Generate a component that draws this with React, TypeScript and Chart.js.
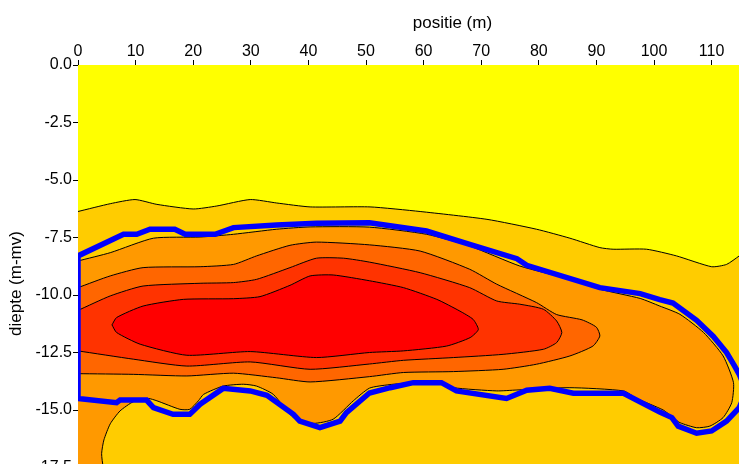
import React, { useEffect, useRef } from 'react';
import { Chart, registerables } from 'chart.js';

Chart.register(...registerables);

type P = [number, number];

// axis ranges / ticks
const X_MIN = 0;
const X_MAX = 130;
const X_STEP = 10;
const Y_MIN = -19;
const Y_MAX = 0;
const Y_STEP = 2.5;
const X_TITLE = 'positie (m)';
const Y_TITLE = 'diepte (m-mv)';

// whole section (lowest class)
const sectionArea: P[] = [[0, 0], [130, 0], [130, -19.5], [0, -19.5]];

// class 2 (gold): everything below the first contour
const contour1: P[] = [
  [0, -6.37], [5.6, -6.03], [9.9, -5.85], [13.7, -6.06], [20, -6.26], [24.1, -6.13],
  [29.9, -5.85], [34.5, -6.0], [40.3, -6.17], [50.7, -6.17], [59.4, -6.37], [71, -6.71],
  [79.6, -7.14], [85.4, -7.53], [90.6, -7.94], [92.9, -8.01], [98.7, -8.01], [103.9, -8.3],
  [110, -8.77], [112.6, -8.67], [114.8, -8.3], [117, -7.9], [122, -7.6], [130, -7.5],
  [130, -19.5], [0, -19.5],
];

// class 3 (orange)
const contour2: P[] = [
  [0, -8.52], [5.6, -8.16], [13.1, -7.53], [21.2, -7.48], [27, -7.36], [34.5, -7.14],
  [40.3, -7.04], [50.6, -7.05], [60.5, -7.36], [68, -7.87], [76.7, -8.74], [85.4, -9.32],
  [90.6, -9.75], [97.6, -10.15], [101, -10.48], [104.5, -10.84], [108.6, -11.63],
  [112, -12.65], [113.8, -13.81], [113.5, -14.68], [112, -15.33], [109.7, -15.7],
  [107.4, -15.77], [104.5, -15.55], [103.3, -15.33], [101.6, -15.0], [97, -14.5],
  [94.7, -14.17], [85.4, -14.03], [76.2, -14.13], [72.7, -14.17], [65.2, -14.03],
  [63.1, -13.81], [58.2, -13.81], [54, -13.9], [50.6, -14.05], [47.8, -14.6], [44.3, -15.4],
  [40.9, -15.58], [37.4, -15.33], [33.9, -14.32], [31, -13.96], [28.7, -13.88], [25.2, -13.96],
  [21.8, -14.32], [20.9, -14.6], [19.4, -14.97], [17.7, -14.97], [13.7, -14.6], [12.2, -14.5],
  [9.6, -14.64], [7.3, -15.04], [5.6, -15.6], [4.5, -16.3], [4.1, -16.9], [4.4, -17.5],
  [5.5, -18.3], [7, -19.5], [0, -19.5],
];

// class 4 (dark orange)
const contour3: P[] = [
  [0, -9.68], [5.6, -9.17], [11.3, -8.81], [21.2, -8.77], [27, -8.67], [31, -8.3],
  [36.8, -7.84], [41.4, -7.7], [50.6, -7.82], [59.4, -8.09], [68, -8.88], [72.7, -9.53],
  [79.6, -10.33], [83.1, -10.85], [87.5, -11.08], [90, -11.4], [90.6, -11.78], [89.4, -12.22],
  [85.4, -12.65], [79.6, -13.01], [73.8, -13.23], [65.2, -13.33], [56.5, -13.37],
  [50.6, -13.55], [40.3, -13.78], [34.5, -13.6], [27, -13.4], [18.9, -13.52], [9.6, -13.45],
  [0, -13.42],
];

// class 5 (red-orange)
const contour4: P[] = [
  [0, -10.67], [5.6, -10.04], [11.3, -9.61], [21.2, -9.49], [27, -9.46], [31, -9.32],
  [36.8, -8.81], [41.4, -8.4], [46.1, -8.4], [50.6, -8.57], [59.4, -9.03], [68, -9.68],
  [72.7, -10.26], [76.7, -10.4], [80.8, -10.62], [83.1, -11.13], [84, -11.63], [83.1, -12.07],
  [80.8, -12.36], [73.8, -12.58], [65.2, -12.72], [56.5, -12.84], [50.6, -13.0],
  [40.3, -13.23], [29.9, -12.91], [18.9, -13.09], [9.6, -12.79], [0, -12.43],
];

// class 6 (red core)
const contour5: P[] = [
  [5.9, -11.3], [6.7, -10.98], [11.3, -10.48], [18.3, -10.19], [27, -10.16], [31.6, -10.07],
  [36.8, -9.58], [40.3, -9.17], [44.3, -9.13], [50.6, -9.38], [56.5, -9.68], [62.3, -10.19],
  [66.3, -10.7], [68.6, -11.06], [69.5, -11.5], [68.1, -11.85], [64, -12.22], [56.5, -12.43],
  [50.6, -12.5], [41.4, -12.72], [29.9, -12.46], [18.9, -12.62], [10.8, -12.14],
  [6.7, -11.63], [5.9, -11.3],
];

// blue outline
const outline: P[] = [
  [0, -11.5], [0, -14.5], [6.7, -14.68], [7.3, -14.57], [11.9, -14.57], [13.1, -14.9],
  [16.5, -15.19], [19.4, -15.19], [21.2, -14.75], [25.2, -14.06], [29.9, -14.17],
  [32.8, -14.36], [37.4, -15.19], [38.5, -15.48], [42, -15.77], [45.5, -15.48], [46.6, -15.11],
  [50.6, -14.26], [54.2, -14.03], [58.2, -13.81], [63.1, -13.81], [65.7, -14.17],
  [74.4, -14.5], [77.9, -14.14], [81.9, -14.06], [86, -14.27], [94.7, -14.27], [101, -15.09],
  [103.1, -15.33], [104.2, -15.7], [107.4, -16.01], [110, -15.91], [112.6, -15.48],
  [114.8, -14.9], [116, -14.2], [114.8, -13.45], [114, -13.09], [112.6, -12.5],
  [110.3, -11.8], [107.4, -11.1], [103.3, -10.35], [101, -10.2], [97.6, -9.94], [90.6, -9.68],
  [77.9, -8.71], [76.2, -8.42], [68, -7.8], [60.5, -7.22], [50.6, -6.86], [41.4, -6.88],
  [34.5, -6.96], [27, -7.07], [23.8, -7.36], [18.6, -7.36], [16.8, -7.14], [12.5, -7.14],
  [10.2, -7.36], [7.9, -7.36], [0, -8.3], [0, -11.5],
];

const classColors = ['#FFFF00', '#FFCC00', '#FF9900', '#FF6600', '#FF3300', '#FF0000'];
const outlineColor = '#0000FF';

const toXY = (pts: P[]) => pts.map(([x, y]) => ({ x, y }));

const FONT = "'Liberation Sans', Arial, Helvetica, sans-serif";

export default function App() {
  const ref = useRef<HTMLCanvasElement | null>(null);

  useEffect(() => {
    if (!ref.current) return;
    const polys = [sectionArea, contour1, contour2, contour3, contour4, contour5];
    const datasets: any[] = polys.map((pts, i) => ({
      data: toXY(pts),
      backgroundColor: classColors[i],
      borderColor: i === 0 ? 'rgba(0,0,0,0)' : '#000000',
      borderWidth: i === 0 ? 0 : 1,
      fill: 'shape',
      tension: i === 0 ? 0 : 0.2,
      pointRadius: 0,
      pointHoverRadius: 0,
      pointHitRadius: 0,
      order: 20 - i,
    }));
    datasets.push({
      data: toXY(outline),
      borderColor: outlineColor,
      borderWidth: 5.5,
      fill: false,
      tension: 0,
      pointRadius: 0,
      pointHoverRadius: 0,
      pointHitRadius: 0,
      order: 1,
    });

    const chart = new Chart(ref.current, {
      type: 'line',
      data: { datasets },
      options: {
        animation: false,
        responsive: false,
        events: [],
        layout: { padding: { left: 0, top: 0, right: 860 - 826.8, bottom: 18 } },
        plugins: { legend: { display: false }, tooltip: { enabled: false } },
        scales: {
          x: {
            type: 'linear',
            position: 'top',
            min: X_MIN,
            max: X_MAX,
            z: 1,
            afterFit: (s: any) => { s.height = 65; },
            ticks: {
              stepSize: X_STEP,
              autoSkip: false,
              maxRotation: 0,
              padding: 0,
              color: '#000',
              font: { family: FONT, size: 16, lineHeight: 1 },
            },
            grid: { drawOnChartArea: false, drawTicks: true, tickLength: 5, tickColor: '#000' },
            border: { display: true, color: '#000', width: 1 },
            title: {
              display: true,
              text: X_TITLE,
              color: '#000',
              font: { family: FONT, size: 17 },
              padding: { top: 13, bottom: 0 },
            },
          },
          y: {
            type: 'linear',
            position: 'left',
            min: Y_MIN,
            max: Y_MAX,
            z: 1,
            afterFit: (s: any) => { s.width = 78; },
            ticks: {
              stepSize: Y_STEP,
              autoSkip: false,
              padding: 1,
              color: '#000',
              font: { family: FONT, size: 16 },
              callback: (v: any) => Number(v).toFixed(1),
            },
            grid: { drawOnChartArea: false, drawTicks: true, tickLength: 5, tickColor: '#000' },
            border: { display: true, color: '#000', width: 1 },
            title: {
              display: true,
              text: Y_TITLE,
              color: '#000',
              font: { family: FONT, size: 17 },
              padding: { top: 6, bottom: 0 },
            },
          },
        },
      },
    });
    return () => chart.destroy();
  }, []);

  return (
    <div
      style={{
        position: 'fixed',
        left: 0,
        top: 0,
        width: 739,
        height: 464,
        overflow: 'hidden',
        background: '#ffffff',
      }}
    >
      <canvas
        ref={ref}
        width={860}
        height={520}
        style={{ position: 'absolute', left: 0, top: 0, width: 860, height: 520 }}
      />
    </div>
  );
}
